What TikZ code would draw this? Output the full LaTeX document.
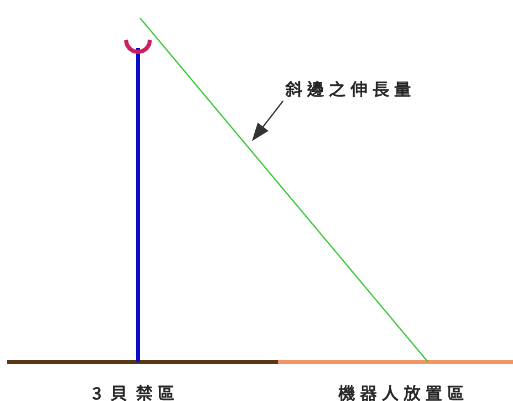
\documentclass[tikz,border=0pt]{standalone}
\usepackage{fontspec}
\newfontfamily\cjk[FakeBold=2.5]{Noto Sans CJK TC}
\usetikzlibrary{arrows.meta}
\definecolor{groundbrown}{RGB}{90,55,25}
\definecolor{groundorange}{RGB}{240,150,100}
\definecolor{poleblue}{RGB}{10,10,200}
\definecolor{cupred}{RGB}{205,30,100}
\definecolor{hypgreen}{RGB}{60,200,60}
\tikzset{
  lbl/.style={font=\cjk\fontsize{17}{17}\selectfont\addfontfeature{LetterSpace=28}, inner sep=0pt, text=black!85},
}
\begin{document}
\begin{tikzpicture}[x=1pt,y=-1pt]
\path[use as bounding box] (0,0) rectangle (513,400);
\clip (0,0) rectangle (513,400);
\coordinate (g0) at (7,362);
\coordinate (gm) at (278,362);
\coordinate (g1) at (513,362);
\coordinate (pbot) at (138,362);
\coordinate (ptop) at (138,48);
\coordinate (htop) at (140,18);
\coordinate (hbot) at (428,362);
\coordinate (atail) at (283,101);
\coordinate (ahead) at (252,141);
\draw[groundbrown, line width=4pt] (g0) -- (gm);
\draw[groundorange, line width=4pt] (gm) -- (g1);
\draw[poleblue, line width=4pt] (pbot) -- (ptop);
\draw[cupred, line width=4pt] (126,40) arc[start angle=180, end angle=0, radius=12];
\draw[hypgreen, line width=1.2pt] (htop) -- (hbot);
\draw[black!80, line width=1.2pt, -{Triangle[length=18pt,width=13pt]}] (atail) -- (ahead);
\node[lbl, anchor=west] (t1) at (285,89) {斜邊之伸長量};
\node[lbl, anchor=west] (t2) at (92,393) {3 貝 禁區};
\node[lbl, anchor=west] (t3) at (338,393) {機器人放置區};
\end{tikzpicture}
\end{document}
